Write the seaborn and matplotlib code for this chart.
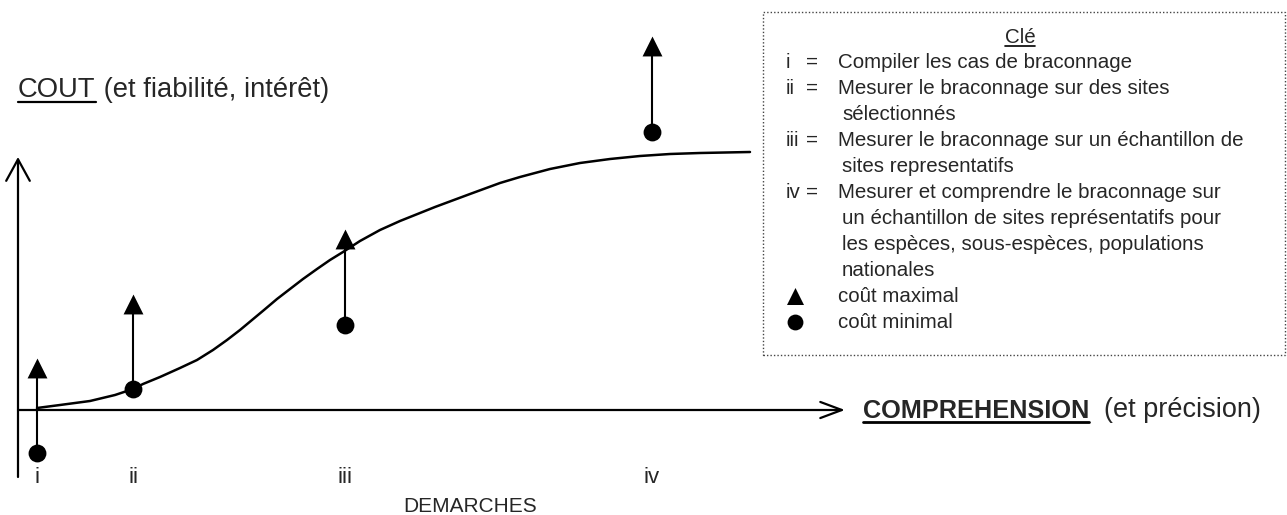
import matplotlib.pyplot as plt
import seaborn as sns
from matplotlib.patches import Rectangle
from matplotlib.lines import Line2D

# démarches (position sur l'axe compréhension) et coûts
steps = [19, 115, 327, 634]
step_labels = ["i", "ii", "iii", "iv"]
cout_max = [42, 106, 171, 364]
cout_min = [-43, 21, 85, 278]

curve_x = [19, 42, 72, 97, 115, 125, 142, 162, 179, 195, 209, 222, 234, 246,
           259, 272, 285, 299, 312, 325, 342, 362, 382, 417, 452, 482, 502,
           532, 562, 592, 622, 652, 682, 732]
curve_y = [2, 5, 9, 15, 21, 26, 33, 42, 50, 60, 70, 80, 90, 100,
           111, 121, 131, 141, 150, 158, 169, 180, 189, 203, 216, 227, 233,
           241, 247, 251, 254, 256, 257, 258]

# clé
key_title = "Clé"
key_ids = ["i", "ii", "iii", "iv"]
key_texts = [
    ["Compiler les cas de braconnage"],
    ["Mesurer le braconnage sur des sites", "sélectionnés"],
    ["Mesurer le braconnage sur un échantillon de", "sites representatifs"],
    ["Mesurer et comprendre le braconnage sur",
     "un échantillon de sites représentatifs pour",
     "les espèces, sous-espèces, populations",
     "nationales"],
]
key_max = "coût maximal"
key_min = "coût minimal"

sns.set_style("white")
plt.rcParams['font.family'] = ['Liberation Sans', 'DejaVu Sans']

W, H = 1287, 515
fig = plt.figure(figsize=(W / 100, H / 100), dpi=100)
ax = fig.add_axes([0, 0, 1, 1])
ax.set_xlim(-18, W - 18)
ax.set_ylim(-(H - 410), 410)
ax.axis("off")


def fx(px):
    return px / W


def fy(py):
    return 1 - py / H


# axes avec flèches ouvertes
ax.annotate("", xy=(0, 253), xytext=(0, -67),
            arrowprops=dict(arrowstyle="->,head_length=15.5,head_width=8.5",
                            mutation_scale=1, lw=1.6, color="black",
                            shrinkA=0, shrinkB=0))
ax.annotate("", xy=(827, 0), xytext=(0, 0),
            arrowprops=dict(arrowstyle="->,head_length=15.5,head_width=5.8",
                            mutation_scale=1, lw=1.6, color="black",
                            shrinkA=0, shrinkB=0))

# courbe
sns.lineplot(x=curve_x, y=curve_y, color="black", lw=1.8, sort=False,
             estimator=None, solid_joinstyle="round", ax=ax)

# tiges coût min -> coût max
ax.vlines(steps, cout_min, cout_max, color="black", lw=1.5, zorder=2)
sns.scatterplot(x=steps, y=cout_max, marker="^", s=205, color="black",
                linewidth=0, zorder=3, ax=ax)
sns.scatterplot(x=steps, y=cout_min, marker="o", s=165, color="black",
                linewidth=0, zorder=3, ax=ax)

# étiquettes des démarches
for xs, lab in zip(steps, step_labels):
    ax.text(xs, -73, lab, ha="center", va="baseline", fontsize=16)
fig.text(fx(470), fy(512), "DEMARCHES", ha="center", va="baseline", fontsize=15)

renderer = fig.canvas.get_renderer()


def underline(t, lw=1.6):
    bb = t.get_window_extent(renderer)
    y = bb.y0 + 1
    fig.add_artist(Line2D([bb.x0 / W, bb.x1 / W], [y / H, y / H],
                          transform=fig.transFigure, color="black", lw=lw))


# titre axe vertical
t_cout = fig.text(fx(18), fy(97), "COUT", ha="left", va="baseline", fontsize=19.7)
underline(t_cout)
ax.annotate(" (et fiabilité, intérêt)", xy=(1, 0), xycoords=t_cout,
            ha="left", va="bottom", fontsize=19.7)

# titre axe horizontal
t_comp = fig.text(fx(863), fy(418), "COMPREHENSION", ha="left", va="baseline",
                  fontsize=18.2, fontweight="bold")
underline(t_comp, lw=2)
ax.annotate("  (et précision)", xy=(1, 0), xycoords=t_comp,
            ha="left", va="bottom", fontsize=19.5)

# cadre de la clé
fig.add_artist(Rectangle((fx(763), fy(355)), fx(1285) - fx(763), fy(12) - fy(355),
                         transform=fig.transFigure, fill=False, edgecolor="#444444",
                         lw=1, ls=(0, (1, 1.5))))

fs = 14.8
t_key = fig.text(fx(1020), fy(43), key_title, ha="center", va="baseline", fontsize=fs)
underline(t_key, lw=1.2)

row = 0
for kid, lines in zip(key_ids, key_texts):
    yb = 68 + 26 * row
    fig.text(fx(786), fy(yb), kid, ha="left", va="baseline", fontsize=fs)
    fig.text(fx(806), fy(yb), "=", ha="left", va="baseline", fontsize=fs)
    for j, line in enumerate(lines):
        xl = 838 if j == 0 else 842
        fig.text(fx(xl), fy(68 + 26 * row), line, ha="left", va="baseline", fontsize=fs)
        row += 1

yb_max = 68 + 26 * row
fig.text(fx(838), fy(yb_max), key_max, ha="left", va="baseline", fontsize=fs)
fig.text(fx(838), fy(yb_max + 26), key_min, ha="left", va="baseline", fontsize=fs)
ax.scatter([795 - 18], [410 - (yb_max - 6)], marker="^", s=150, color="black", linewidth=0)
ax.scatter([795 - 18], [410 - (yb_max + 20)], marker="o", s=130, color="black", linewidth=0)

fig.savefig("out.png", dpi=100)
